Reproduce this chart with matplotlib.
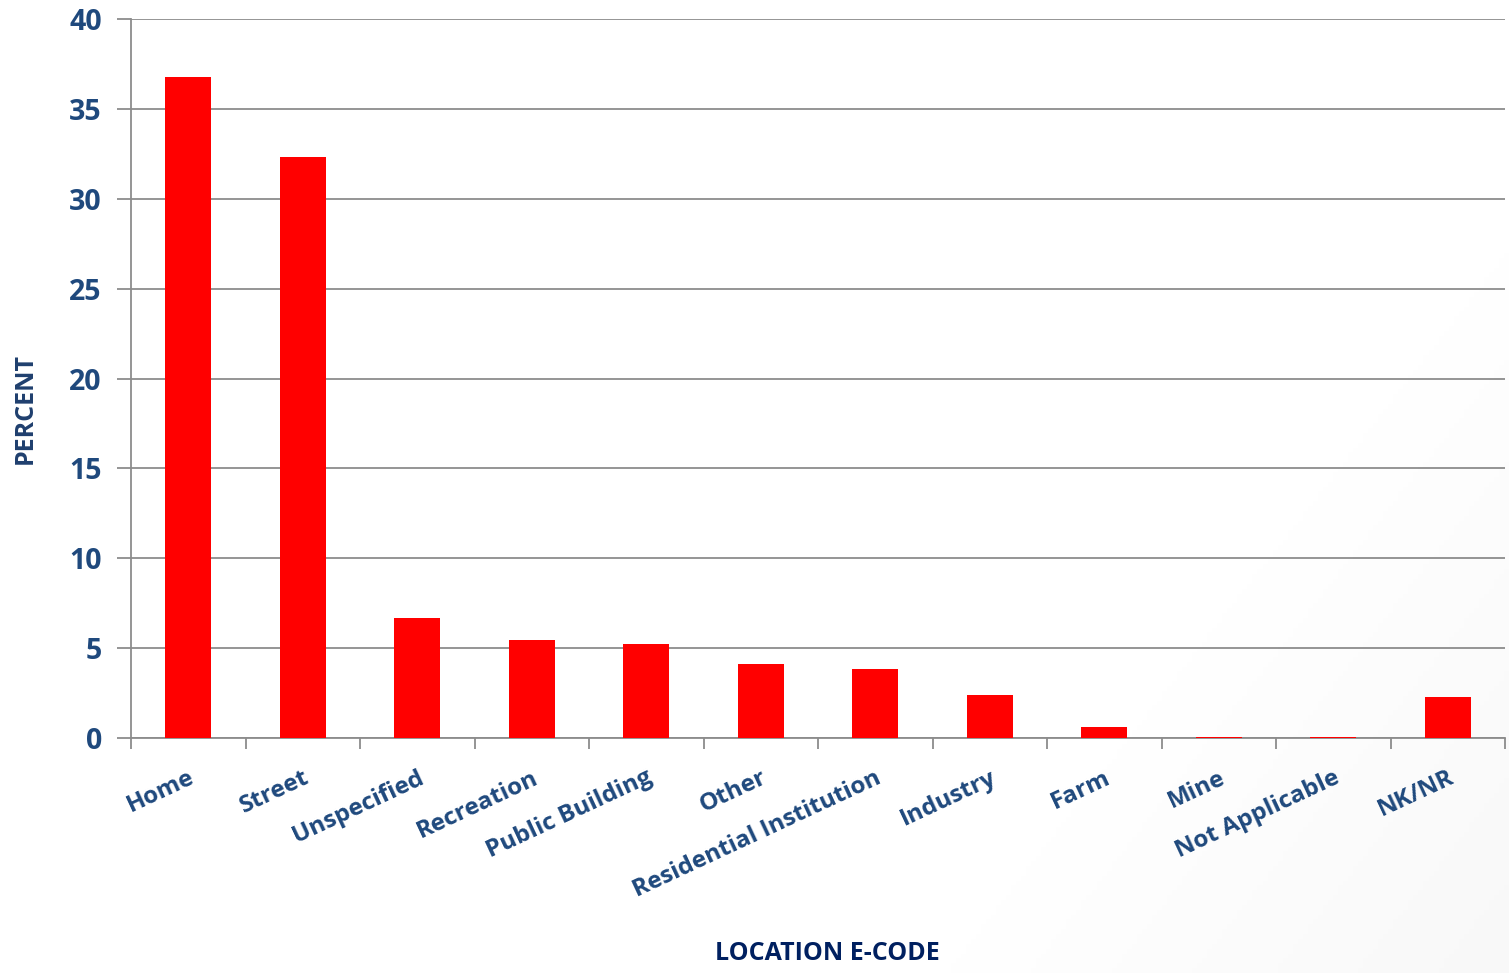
import matplotlib
matplotlib.use("Agg")
import matplotlib.pyplot as plt
import numpy as np

categories = ["Home", "Street", "Unspecified", "Recreation", "Public Building", "Other",
              "Residential Institution", "Industry", "Farm", "Mine", "Not Applicable", "NK/NR"]
percent = [36.8, 32.3, 6.7, 5.45, 5.22, 4.1, 3.83, 2.4, 0.6, 0.03, 0.08, 2.28]
yticks = [0, 5, 10, 15, 20, 25, 30, 35, 40]

plt.rcParams['font.family'] = ['Open Sans', 'DejaVu Sans']

fig = plt.figure(figsize=(15.09, 9.73), dpi=100)
# subtle gray gradient at bottom-right corner
bg = fig.add_axes([0, 0, 1, 1], zorder=-10)
xx, yy = np.meshgrid(np.linspace(0, 1, 300), np.linspace(0, 1, 200))
d = np.clip((xx - 0.75) * 1.2 + (0.35 - yy) * 0.6, 0, 1)
bg.imshow(1 - 0.06 * d, cmap='gray', vmin=0, vmax=1, extent=[0, 1, 0, 1], aspect='auto', origin='lower')
bg.axis('off')

ax = fig.add_axes([131/1509, 1-738/973, (1505-131)/1509, (738-19)/973])
ax.patch.set_alpha(0)
x = np.arange(len(categories))
ax.bar(x, percent, width=0.4, color='#FF0000', zorder=3)

ax.set_xlim(-0.5, len(categories) - 0.5)
ax.set_ylim(0, 40)
ax.set_yticks(yticks)
ax.yaxis.grid(True, color='#8C8C8C', linewidth=1.3, zorder=0)
ax.set_axisbelow(True)

for s in ['top', 'right']:
    ax.spines[s].set_visible(False)
for s in ['left', 'bottom']:
    ax.spines[s].set_color('#8C8C8C')
    ax.spines[s].set_linewidth(1.3)

tick_col = '#1F497D'
ax.tick_params(axis='y', length=10, width=1.3, color='#8C8C8C', labelsize=20.5,
               labelcolor=tick_col, pad=11)
for lab in ax.get_yticklabels():
    lab.set_fontweight('bold')

ax.set_xticks(x)
ax.set_xticklabels(categories, rotation=25, ha='right', rotation_mode='anchor',
                   fontsize=17.5, fontweight='bold', color=tick_col)
ax.tick_params(axis='x', which='major', length=0, pad=20)
ax.set_xticks(np.arange(-0.5, len(categories)), minor=True)
ax.tick_params(axis='x', which='minor', length=8, width=1.3, color='#8C8C8C')

fig.text(25/1509, 1-408/973, 'PERCENT', fontsize=18, fontweight='bold', color='#1F3F6E',
         rotation=90, ha='center', va='center')
fig.text(827/1509, 1-953/973, 'LOCATION E-CODE', fontsize=18, fontweight='bold',
         color='#002060', ha='center', va='center')

fig.savefig('out.png', dpi=100)
